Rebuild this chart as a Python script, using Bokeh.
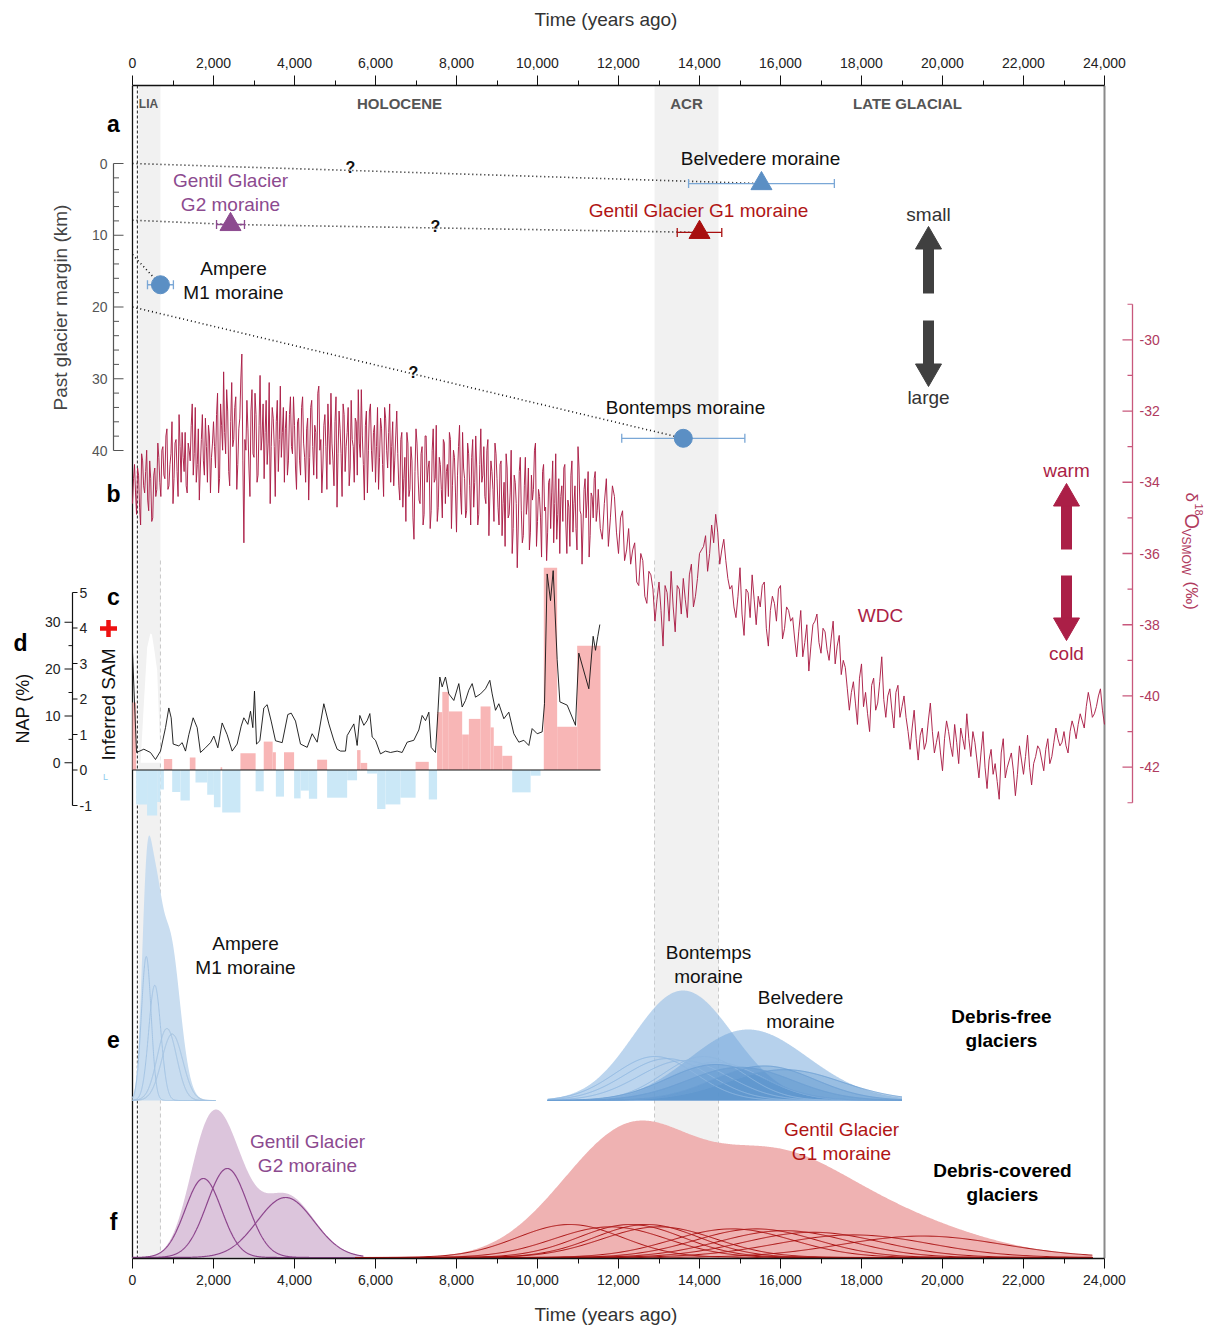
import numpy as np
from bokeh.plotting import figure
from bokeh.models import Range1d, LinearAxis, FixedTicker, NumeralTickFormatter
from bokeh.core.properties import value
from bokeh.embed import file_html
from bokeh.resources import INLINE

FONT = "Liberation Sans"

# ------------------------------------------------------------------ data
time_major = [0, 2000, 4000, 6000, 8000, 10000, 12000, 14000, 16000, 18000, 20000, 22000, 24000]
time_minor = [1000, 3000, 5000, 7000, 9000, 11000, 13000, 15000, 17000, 19000, 21000, 23000]

lia_span = [150, 690]
acr_span = [12890, 14470]

# panel a: moraine ages (yr) and past glacier margin (km)
moraine_age = [15530, 14000, 2420, 690, 13600]
moraine_err = [1800, 550, 345, 320, 1520]
moraine_km = [2.8, 9.6, 8.5, 16.9, 38.3]
moraine_marker = ["triangle", "triangle", "triangle", "circle", "circle"]

link_bel_age = [0, 15530]
link_bel_km = [0.0, 2.8]
link_gen_age = [0, 2420, 14000]
link_gen_km = [7.9, 8.5, 9.6]
link_amp_age = [0, 690]
link_amp_km = [12.7, 16.9]
link_bon_age = [0, 13600]
link_bon_km = [20.0, 38.3]

# panel b: WDC d18O (permil)
# Holocene: values at 0, 50, 100 ... yr and in-between values at 25, 75, 125 ... yr
wdc_holocene = [
    -34.6, -33.5, -34.9, -33.8, -35.2, -33.4, -34.3, -33.1, -34.8, -33.9, -35.0, -33.6, -34.2, -33.3,
    -34.4, -33.0, -33.9, -32.5, -34.1, -33.2, -34.6, -32.9, -33.7, -32.1, -34.0, -33.3, -32.6, -34.3,
    -33.1, -32.4, -33.8, -31.9, -33.5, -34.5, -32.8, -33.4, -32.2, -34.0, -32.7, -33.3,
    -32.3, -33.6, -31.5, -33.9, -32.4, -30.9, -33.2, -32.0, -34.1, -31.2, -32.8, -31.6, -33.5, -32.2,
    -30.4, -35.7, -33.1, -32.5, -34.4, -31.4, -33.3, -32.1, -33.8, -31.0, -32.7, -33.9, -31.7, -32.9,
    -34.6, -31.9, -33.0, -32.3, -33.7, -31.3, -32.6, -34.0, -32.0, -33.4, -31.6, -33.2, -32.4, -34.2,
    -32.2, -33.8, -31.6, -33.3, -32.5, -34.5, -31.9, -33.0, -32.4, -33.9, -31.3, -32.8, -33.6, -32.1,
    -34.2, -32.7, -31.5, -33.4, -32.3, -34.7, -32.0, -33.2, -31.8, -33.7, -32.6, -34.1, -31.7, -33.0,
    -32.2, -33.8, -32.9, -31.4, -33.5, -32.4, -34.3, -32.0, -33.1, -32.6, -34.0, -31.9, -33.3, -32.5,
    -34.4, -32.2, -33.6, -31.8, -33.0, -34.1, -32.7,
    -33.2, -34.5, -32.6, -33.9, -35.1, -32.9, -34.2, -33.4, -35.6, -32.5, -33.8, -34.6, -33.0, -34.9,
    -32.7, -33.6, -35.3, -33.1, -34.0, -32.4, -34.7, -33.5, -35.0, -32.9, -33.7, -34.4, -32.8, -34.1,
    -33.3, -35.4, -33.0, -34.3, -32.6, -33.9, -34.8, -33.2, -35.2, -32.8, -34.0, -33.6, -34.9, -32.5,
    -33.8, -34.4, -33.1, -35.5, -33.4, -34.2, -32.9,
    -33.9, -35.2, -33.4, -34.6, -35.8, -33.6, -34.9, -33.1, -35.3, -34.0, -36.4, -33.7, -34.8, -35.5,
    -33.3, -34.5, -35.9, -33.8, -34.2, -32.9, -35.1, -34.4, -36.1, -33.5, -34.7, -35.4, -33.9, -34.3,
    -35.7, -33.2, -34.9, -36.0, -34.1, -33.6, -35.2, -34.5, -35.8, -33.4, -34.6, -35.3, -33.0, -34.8,
    -36.3, -34.2, -35.0, -33.7, -35.5, -34.4, -33.9, -35.1,
]
wdc_holocene_mid = [
    -33.9, -34.3, -33.6, -34.7, -33.2, -34.1, -33.7, -34.5, -33.4, -35.1, -33.8, -34.4, -32.9, -34.0,
    -33.1, -33.8, -32.7, -34.2, -33.5, -32.3, -33.9, -32.8, -34.4, -33.0, -32.6, -33.7, -34.1, -32.9,
    -33.4, -31.8, -33.2, -34.0, -32.5, -33.6, -32.1, -33.8, -33.0, -32.4, -34.3, -32.9,
    -33.0, -32.1, -34.3, -31.8, -33.1, -32.6, -31.4, -33.7, -32.3, -33.0, -31.9, -34.2, -32.5, -31.1,
    -33.4, -32.8, -31.7, -33.6, -32.0, -33.2, -31.5, -34.0, -32.4, -33.1, -31.8, -32.6, -33.5, -31.2,
    -33.0, -32.2, -34.4, -31.7, -32.8, -33.3, -31.9, -32.5, -33.8, -32.1, -33.0, -31.6, -33.6, -32.3,
    -33.4, -31.9, -32.9, -34.0, -32.2, -33.3, -31.7, -33.8, -32.6, -31.5, -33.1, -34.3, -32.4, -33.0,
    -31.8, -33.5, -32.9, -34.1, -31.6, -33.2, -32.5, -34.4, -32.1, -33.0, -31.9, -33.6, -32.8, -34.0,
    -32.3, -31.4, -33.3, -32.7, -34.5, -32.0, -33.1, -31.8, -33.7, -32.4, -33.0, -34.2, -32.2, -33.5,
    -31.9, -33.1, -32.6, -34.0, -32.3, -33.4, -32.0,
    -34.1, -32.8, -34.7, -33.3, -32.6, -34.4, -33.0, -35.0, -33.7, -32.9, -34.5, -33.2, -35.2, -32.7,
    -34.0, -33.4, -34.8, -32.5, -33.9, -35.1, -33.3, -34.2, -32.8, -34.6, -33.5, -32.6, -35.3, -33.1,
    -34.3, -33.8, -32.4, -34.9, -33.6, -35.0, -32.9, -34.1, -33.3, -34.7, -32.7, -35.2, -33.5, -34.0,
    -33.0, -34.6, -32.8, -34.3, -33.7, -35.1, -33.2,
    -34.7, -33.5, -35.5, -34.0, -33.2, -35.0, -34.3, -36.0, -33.8, -34.6, -35.2, -33.3, -35.7, -34.1,
    -34.9, -33.6, -35.4, -34.5, -33.1, -35.8, -34.2, -35.0, -33.7, -34.8, -36.2, -34.0, -35.3, -33.4,
    -34.6, -35.6, -33.9, -34.4, -35.1, -33.5, -36.0, -34.7, -33.8, -35.4, -34.1, -35.9, -33.6, -34.9,
    -35.2, -33.9, -34.5, -36.1, -34.3, -35.0, -33.7, -34.8,
]
# Late glacial: values at 11500, 11600 ... yr and in-between values at 11550, 11650 ... yr
wdc_glacial = [
    -34.2, -35.6, -33.9, -35.0, -34.4, -36.0, -34.8, -35.9,
    -36.3, -35.7, -36.9, -36.2, -37.4, -36.6,
    -37.9, -36.8, -38.6, -37.1, -36.5, -38.2, -37.0, -36.7, -37.8, -36.3, -37.2, -36.0,
    -35.8, -36.5, -35.2, -34.9, -36.3, -35.6, -36.7,
    -36.9, -37.8, -36.4, -38.3, -37.1, -36.6, -38.0, -37.5, -36.8, -38.6, -37.2, -37.9, -36.9, -38.1, -37.6,
    -37.8, -38.9, -37.6, -38.5, -39.3, -38.0, -37.7, -38.8, -38.2, -39.0, -37.9, -38.6, -39.4,
    -39.2, -40.4, -39.6, -40.8, -39.1, -39.9, -41.0, -39.5, -40.2, -38.9, -40.6, -39.8, -40.9, -39.7, -40.3,
    -40.6, -41.5, -40.4, -41.8, -40.9, -41.3, -40.2, -41.6, -41.0, -42.1, -40.7, -41.4, -40.8, -41.9, -41.2,
    -40.5, -41.7,
    -41.3, -42.3, -41.0, -42.6, -41.5, -41.9, -42.9, -41.2, -42.0, -41.6, -42.8, -41.4, -42.2, -41.1, -42.5,
    -41.7,
    -41.5, -42.1, -41.2, -41.7, -40.9, -41.4, -41.0, -41.6, -40.7, -41.2, -40.5, -40.9, -39.9, -40.6, -40.3,
    -39.8, -40.8,
]
wdc_glacial_mid = [
    -35.3, -34.6, -35.8, -34.1, -35.4, -35.0, -36.2, -35.3,
    -35.9, -36.8, -36.0, -37.2, -36.5, -37.0,
    -37.3, -37.6, -36.9, -37.9, -37.5, -36.9, -37.7, -37.3, -36.6, -37.5, -36.7, -35.9,
    -35.5, -36.0, -35.7, -35.4, -35.9, -36.2, -37.0,
    -37.5, -37.2, -37.7, -37.0, -37.8, -37.3, -37.2, -36.9, -38.1, -37.6, -37.4, -37.0, -38.4, -37.5, -37.9,
    -38.4, -38.2, -38.9, -38.0, -38.6, -37.9, -38.5, -38.1, -38.7, -38.4, -39.1, -38.3, -39.0,
    -39.8, -39.9, -40.2, -39.5, -40.3, -40.5, -39.7, -40.4, -39.6, -40.1, -40.0, -40.4, -39.9, -40.6, -40.0,
    -41.0, -40.9, -41.2, -41.1, -41.5, -40.7, -41.0, -41.3, -41.6, -41.2, -41.0, -41.7, -41.3, -40.9, -41.5,
    -41.2, -41.0,
    -41.8, -41.6, -42.0, -41.8, -42.2, -42.4, -41.6, -42.3, -41.8, -42.1, -42.2, -41.8, -41.7, -42.0, -41.9,
    -41.4,
    -41.8, -41.5, -41.9, -41.3, -41.2, -41.3, -41.4, -41.0, -40.9, -40.8, -40.7, -40.3, -40.2, -40.5, -40.0,
    -40.4,
]
_wdc = sorted(
    [(50 * i, v) for i, v in enumerate(wdc_holocene)]
    + [(50 * i + 25, v) for i, v in enumerate(wdc_holocene_mid)]
    + [(11500 + 100 * i, v) for i, v in enumerate(wdc_glacial)]
    + [(11550 + 100 * i, v) for i, v in enumerate(wdc_glacial_mid)]
)
wdc_age = [a for a, _ in _wdc]
wdc_d18o = [v for _, v in _wdc]

# panel c: inferred SAM (step bins)
sam_start = [0, 90, 360, 610, 690, 775, 980, 1185, 1415, 1555, 1845, 2010, 2175, 2215, 2665, 3040, 3240,
             3460, 3540, 3740, 3990, 4150, 4355, 4560, 4805, 5300, 5545, 5630, 5795, 6040, 6245, 6615,
             6990, 7315, 7520, 7650, 7810, 8140, 8305, 8595, 8840, 8920, 9130, 9375, 9830, 10155, 10485,
             10980]
sam_end = [90, 360, 610, 690, 775, 980, 1185, 1415, 1555, 1845, 2010, 2175, 2215, 2665, 3040, 3240, 3460,
           3540, 3740, 3990, 4150, 4355, 4560, 4805, 5300, 5545, 5630, 5795, 6040, 6245, 6615, 6990,
           7315, 7520, 7650, 7810, 8140, 8305, 8595, 8840, 8920, 9130, 9375, 9830, 10075, 10485, 10980,
           11555]
sam_value = [1.9, -0.97, -1.28, -0.9, -0.55, 0.31, -0.62, -0.86, 0.35, -0.35, -0.7, -1.05, 0.08, -1.2,
             0.47, -0.6, 0.8, 0.5, -0.75, 0.5, -0.8, -0.58, -0.81, 0.29, -0.78, -0.29, 0.56, 0.2, -0.1,
             -1.1, -0.97, -0.78, 0.23, -0.83, 1.63, 2.2, 1.65, 1.0, 1.44, 1.79, 1.2, 0.68, 0.40, -0.63,
             -0.16, 5.7, 1.22, 3.5]

# panel d: NAP (%)
nap_age = [0, 100, 280, 444, 568, 691, 815, 897, 955, 1004, 1144, 1226, 1309, 1391, 1498, 1597, 1679,
           1802, 1926, 2008, 2107, 2214, 2337, 2461, 2584, 2683, 2749, 2848, 2914, 2971, 3012, 3062,
           3144, 3243, 3325, 3424, 3531, 3696, 3835, 3918, 4025, 4148, 4313, 4436, 4560, 4724, 4848,
           4971, 5053, 5136, 5259, 5300, 5465, 5547, 5613, 5712, 5794, 5860, 5918, 6000, 6123, 6247,
           6370, 6535, 6658, 6782, 6946, 7070, 7152, 7235, 7317, 7374, 7481, 7539, 7588, 7646, 7728,
           7810, 7934, 8057, 8140, 8222, 8304, 8387, 8469, 8593, 8716, 8823, 8881, 8963, 9045, 9169,
           9292, 9416, 9539, 9663, 9786, 9868, 9992, 10115, 10173, 10239, 10321, 10387, 10486, 10552,
           10733, 10938, 11020, 11267, 11374, 11432, 11489, 11539]
nap_pct = [23.5, 2.2, 2.9, 2.2, 0.7, 2.5, 7.5, 11.7, 9.6, 4.0, 3.6, 4.3, 2.5, 6.0, 9.6, 7.5, 2.2, 3.2,
           4.3, 5.7, 3.2, 8.5, 6.0, 2.5, 4.0, 7.8, 9.6, 8.2, 11.0, 7.5, 15.3, 4.0, 4.7, 11.7, 12.4, 8.9,
           4.7, 4.3, 10.3, 10.6, 8.9, 4.0, 3.3, 6.2, 4.4, 12.6, 8.3, 4.8, 2.9, 2.5, 2.5, 5.8, 8.3, 3.7,
           10.1, 8.0, 9.0, 10.5, 5.5, 4.8, 1.9, 2.5, 2.2, 2.5, 2.2, 4.4, 4.8, 7.0, 10.1, 9.0, 10.8, 3.3,
           2.2, 10.5, 18.3, 16.2, 18.3, 14.7, 13.3, 16.9, 11.9, 13.3, 15.5, 16.9, 14.0, 14.7, 15.8,
           17.6, 14.7, 11.2, 12.6, 9.4, 10.8, 6.2, 4.4, 4.8, 3.7, 7.3, 6.2, 6.6, 12.6, 40.3, 34.6, 41.0,
           22.0, 13.0, 12.3, 8.0, 23.4, 15.8, 27.0, 24.0, 27.0, 29.5]
lia_mask_age = [200, 280, 362, 440, 480, 540, 609, 660, 700]
lia_mask_nap = [0, 12.6, 24.6, 27.6, 27.4, 24.0, 19.7, 8.0, 0]

# panels e, f: individual exposure ages (yr) and 1-sigma uncertainties
amp_age = [340, 550, 850, 980]
amp_err = [120, 150, 240, 260]
bon_age = [12900, 13200, 13600, 14100, 14400]
bon_err = [1000, 1050, 1100, 1000, 1150]
bel_age = [14400, 15000, 15600, 16100]
bel_err = [1200, 1300, 1250, 1400]
g2_age = [1750, 2340, 3780]
g2_err = [450, 500, 700]
g2_peak = [79, 89, 60]          # plotted peak heights of the individual G2 curves (px)
g1_age = [10800, 11800, 12300, 12700, 13000, 14800, 15400, 16100, 16800, 17800, 19500]
g1_err = [1300, 1400, 1300, 1300, 1400, 1500, 1500, 1600, 1700, 1900, 2000]

# ------------------------------------------------------------------ layout helpers
FRAME_T, FRAME_B = 85.0, 1258.0
TXT = 19


def tx(px):
    """page x pixel -> years (layout helper for labels/axes)"""
    return (px - 132.0) * 24000.0 / 972.0


def yrange(v_a, px_a, v_b, px_b):
    k = (v_b - v_a) / (px_b - px_a)
    return Range1d(start=v_a + (FRAME_B - px_a) * k, end=v_a + (FRAME_T - px_a) * k)


p = figure(width=1205, height=1329, output_backend="svg", toolbar_location=None,
           x_range=Range1d(tx(8), tx(1203)), y_range=Range1d(FRAME_B, FRAME_T),
           x_axis_location=None, y_axis_location=None,
           min_border_left=8, min_border_right=2, min_border_top=85, min_border_bottom=71)
p.outline_line_color = None
p.xgrid.visible = False
p.ygrid.visible = False
p.extra_y_ranges = {
    "a": yrange(0, 163, 40, 450),
    "b": yrange(-30, 339.3, -42, 766.7),
    "sam": yrange(0, 769.5, 5, 592),
    "nap": yrange(0, 762.3, 30, 621.7),
    "e": yrange(0, 1100, 100, 1000),
    "f": yrange(0, 1257, 100, 1157),
}

for loc, lab_so, title_so in [("above", 8, 25), ("below", 6, 16)]:
    ax = LinearAxis(ticker=FixedTicker(ticks=time_major, minor_ticks=time_minor),
                    formatter=NumeralTickFormatter(format="0,0"), bounds=(0, 24000),
                    axis_label="Time (years ago)")
    ax.major_tick_out = 10
    ax.major_tick_in = 0
    ax.minor_tick_out = 5
    ax.minor_tick_in = 0
    ax.axis_line_width = 1.6
    ax.axis_line_color = "#111111"
    ax.major_tick_line_color = "#111111"
    ax.minor_tick_line_color = "#111111"
    ax.major_label_text_font = FONT
    ax.major_label_text_font_size = "14px"
    ax.major_label_text_color = "#222222"
    ax.major_label_standoff = lab_so
    ax.axis_label_text_font = FONT
    ax.axis_label_text_font_size = f"{TXT}px"
    ax.axis_label_text_font_style = "normal"
    ax.axis_label_text_color = "#333333"
    ax.axis_label_standoff = title_so
    p.add_layout(ax, loc)


def txt(x, y, s, size=TXT, color="#111111", bold=False, align="center", angle=0.0, yr="default",
        baseline="middle"):
    p.text(x=[x], y=[y], text=[s], text_font=value(FONT), text_font_size=f"{size}px",
           text_color=color, text_font_style="bold" if bold else "normal", text_align=align,
           text_baseline=baseline, angle=angle, y_range_name=yr)


# ------------------------------------------------------------------ background bands
p.quad(left=[lia_span[0], acr_span[0]], right=[lia_span[1], acr_span[1]], bottom=FRAME_B, top=FRAME_T,
       fill_color="#f1f1f1", line_color=None)
p.segment(x0=[lia_span[1], acr_span[0], acr_span[1]], y0=[560] * 3,
          x1=[lia_span[1], acr_span[0], acr_span[1]], y1=[FRAME_B] * 3,
          line_color="#c8c8c8", line_width=1, line_dash="4 3")
p.segment(x0=[120], y0=[FRAME_T], x1=[120], y1=[FRAME_B], line_color="#222222", line_width=1,
          line_dash="3 2")
p.segment(x0=[0], y0=[FRAME_T], x1=[0], y1=[FRAME_B], line_color="#111111", line_width=1.3)
p.segment(x0=[24000], y0=[FRAME_T], x1=[24000], y1=[FRAME_B], line_color="#8a8a8a", line_width=2)

for name, px in [("LIA", 148), ("HOLOCENE", 399), ("ACR", 686), ("LATE GLACIAL", 907)]:
    txt(tx(px), 103, name, size=15 if name != "LIA" else 12, color="#555555", bold=True)

# ------------------------------------------------------------------ panel letters
for letter, px, py in [("a", 113, 123), ("b", 113, 493), ("c", 113, 596), ("d", 20, 642),
                       ("e", 113, 1039), ("f", 113, 1221)]:
    txt(tx(px), py, letter, size=23, color="#000000", bold=True)

# ------------------------------------------------------------------ panel a axis
a_major = [0, 10, 20, 30, 40]
a_minor = [v for v in range(0, 41, 2) if v % 10 != 0]
p.segment(x0=[tx(113)], y0=[0], x1=[tx(113)], y1=[40], y_range_name="a", line_color="#555555",
          line_width=1.2)
p.segment(x0=[tx(113)] * len(a_major), y0=a_major, x1=[tx(123)] * len(a_major), y1=a_major,
          y_range_name="a", line_color="#555555", line_width=1.2)
p.segment(x0=[tx(113)] * len(a_minor), y0=a_minor, x1=[tx(118.5)] * len(a_minor), y1=a_minor,
          y_range_name="a", line_color="#555555", line_width=1)
for v in a_major:
    txt(tx(107), v, str(v), size=14, color="#555555", align="right", yr="a")
txt(tx(60), 307, "Past glacier margin (km)", color="#444444", angle=np.pi / 2)

# panel a links, error bars, markers
for ages, kms in [(link_bel_age, link_bel_km), (link_gen_age, link_gen_km),
                  (link_amp_age, link_amp_km), (link_bon_age, link_bon_km)]:
    p.line(ages, kms, y_range_name="a", line_color="#111111", line_width=1.6, line_dash="1 3")

mk_colors = ["#5b8fc4", "#a80f0f", "#8c4a8f", "#5b8fc4", "#5b8fc4"]
err_colors = ["#7aa7d6", "#a80f0f", "#8c4a8f", "#7aa7d6", "#7aa7d6"]
for age, err, km, mk, c, ec in zip(moraine_age, moraine_err, moraine_km, moraine_marker, mk_colors,
                                   err_colors):
    p.segment(x0=[age - err], y0=[km], x1=[age + err], y1=[km], y_range_name="a", line_color=ec,
              line_width=1.3)
    p.scatter(x=[age - err, age + err], y=[km, km], marker="dash", angle=np.pi / 2, size=9,
              line_color=ec, line_width=1.3, y_range_name="a")
    p.scatter(x=[age], y=[km], marker=mk, size=21 if mk == "triangle" else 18, fill_color=c,
              line_color=c, y_range_name="a")

txt(tx(760), 158, "Belvedere moraine")
txt(tx(230), 180, "Gentil Glacier", color="#8c4a8f")
txt(tx(230), 204, "G2 moraine", color="#8c4a8f")
txt(tx(698), 210, "Gentil Glacier G1 moraine", color="#b01515")
txt(tx(233), 268, "Ampere")
txt(tx(233), 292, "M1 moraine")
txt(tx(685), 407, "Bontemps moraine")
for px, py in [(350, 167), (435, 226), (413, 372)]:
    txt(tx(px), py, "?", size=16, color="#111111", bold=True)

# size / temperature arrows
GRAY = "#404040"
RED = "#ab1f47"
for xpx, shaft, tip, up, c in [(928, (248.5, 293), 226, True, GRAY), (928, (320, 363.5), 386, False, GRAY),
                               (1066, (505.5, 549), 483, True, RED), (1066, (575, 617.5), 640, False, RED)]:
    p.segment(x0=[tx(xpx)], y0=[shaft[0]], x1=[tx(xpx)], y1=[shaft[1]], line_color=c, line_width=11)
    p.scatter(x=[tx(xpx)], y=[tip + 15 if up else tip - 15],
              marker="triangle" if up else "inverted_triangle", size=26, fill_color=c, line_color=c)
txt(tx(928), 214, "small", color="#333333")
txt(tx(928), 397, "large", color="#333333")
txt(tx(1066), 470, "warm", color=RED)
txt(tx(1066), 653, "cold", color=RED)

# ------------------------------------------------------------------ panel c/d (SAM, NAP)
p.varea(x=lia_mask_age, y1=[0] * len(lia_mask_age), y2=lia_mask_nap, fill_color="white",
        y_range_name="nap")
sam_colors = ["#f8b6b6" if v > 0 else "#cbe8f7" for v in sam_value]
p.quad(left=sam_start, right=sam_end, bottom=[0] * len(sam_value), top=sam_value,
       fill_color=sam_colors, line_color=None, y_range_name="sam")
p.segment(x0=[0], y0=[0], x1=[sam_end[-1]], y1=[0], line_color="#111111", line_width=1.2,
          y_range_name="sam")
p.line(nap_age, nap_pct, y_range_name="nap", line_color="#111111", line_width=0.9)

# c/d axes
AX_X = tx(72)
p.segment(x0=[AX_X], y0=[-1], x1=[AX_X], y1=[5], y_range_name="sam", line_color="#111111",
          line_width=1.2)
sam_ticks = [-1, 0, 1, 2, 3, 4, 5]
p.segment(x0=[AX_X] * 7, y0=sam_ticks, x1=[tx(77)] * 7, y1=sam_ticks, y_range_name="sam",
          line_color="#111111", line_width=1.1)
for v in sam_ticks:
    txt(tx(79), v, str(v), size=14, color="#222222", align="left", yr="sam")
nap_major = [0, 10, 20, 30]
nap_minor = [5, 15, 25]
p.segment(x0=[tx(64)] * 4, y0=nap_major, x1=[AX_X] * 4, y1=nap_major, y_range_name="nap",
          line_color="#111111", line_width=1.1)
p.segment(x0=[tx(68)] * 3, y0=nap_minor, x1=[AX_X] * 3, y1=nap_minor, y_range_name="nap",
          line_color="#111111", line_width=1)
for v in nap_major:
    txt(tx(60), v, str(v), size=14, color="#222222", align="right", yr="nap")
txt(tx(22), 708, "NAP (%)", size=18, color="#111111", angle=np.pi / 2)
txt(tx(108), 704, "Inferred SAM", color="#111111", angle=np.pi / 2)
p.scatter(x=[tx(108)], y=[628], marker="cross", size=17, line_color="#ee1111", line_width=4.5)
txt(tx(105), 776, "L", size=9, color="#8fcbed")

# ------------------------------------------------------------------ panel b (WDC)
p.line(wdc_age, wdc_d18o, y_range_name="b", line_color=RED, line_width=1.0, line_alpha=0.95)
txt(tx(880), 615, "WDC", color=RED)

# right d18O axis
B_X = tx(1132)
AXC = "#c8587c"
b_major = [-30, -32, -34, -36, -38, -40, -42]
b_minor = [-29, -31, -33, -35, -37, -39, -41, -43]
p.segment(x0=[B_X], y0=[-29], x1=[B_X], y1=[-43], y_range_name="b", line_color=AXC, line_width=1.3)
p.segment(x0=[tx(1122)] * 7, y0=b_major, x1=[B_X] * 7, y1=b_major, y_range_name="b", line_color=AXC,
          line_width=1.3)
p.segment(x0=[tx(1127)] * 8, y0=b_minor, x1=[B_X] * 8, y1=b_minor, y_range_name="b", line_color=AXC,
          line_width=1.1)
for v in b_major:
    txt(tx(1139), v, str(v), size=14, color="#b03a5e", align="left", yr="b")
for s, pxx, pyy, fs in [("δ", 1191, 492, 17), ("18", 1198, 503, 11), ("O", 1191, 513, 20),
                        ("VSMOW", 1185, 528, 12), ("(‰)", 1191, 581, 17)]:
    txt(tx(pxx), pyy, s, size=fs, color="#b03a5e", align="left", angle=-np.pi / 2)


# ------------------------------------------------------------------ panels e, f (age PDFs)
def pdfs(ages, errs, lo, hi, peaks=None, n=700):
    t = np.linspace(lo, hi, n)
    if peaks is None:
        cs = np.array([np.exp(-0.5 * ((t - a) / s) ** 2) / s for a, s in zip(ages, errs)])
    else:
        cs = np.array([h * np.exp(-0.5 * ((t - a) / s) ** 2) for a, s, h in zip(ages, errs, peaks)])
    return t, cs


# Ampere
t, cs = pdfs(amp_age, amp_err, 0, 2050)
tot = cs.sum(0)
p.varea(x=t, y1=0, y2=tot * 265 / tot.max(), fill_color="#c9ddf0", y_range_name="e")
k = 144 / cs.max()
for c in cs:
    p.line(t, c * k, line_color="#a3c3e3", line_width=1, y_range_name="e")

# Bontemps and Belvedere
tb, csb = pdfs(bon_age, bon_err, 10250, 19000)
tv, csv = pdfs(bel_age, bel_err, 10250, 19000)
totb = csb.sum(0)
totv = csv.sum(0)
p.varea(x=tb, y1=0, y2=totb * 110 / totb.max(), fill_color="#9fc3e7", fill_alpha=0.7, y_range_name="e")
p.varea(x=tv, y1=0, y2=totv * 71 / totv.max(), fill_color="#6ea4da", fill_alpha=0.5, y_range_name="e")
kv = 36 / csv.max()
for c in csv:
    p.varea(x=tv, y1=0, y2=c * kv, fill_color="#4f8cc9", fill_alpha=0.28, y_range_name="e")
kb = 44 / csb.max()
for c in csb:
    p.line(tb, c * kb, line_color="#8fb7e0", line_width=1, y_range_name="e")
for c in csv:
    p.line(tv, c * kv, line_color="#6c9fd3", line_width=1, y_range_name="e")

txt(tx(245), 943, "Ampere")
txt(tx(245), 967, "M1 moraine")
txt(tx(708), 952, "Bontemps")
txt(tx(708), 976, "moraine")
txt(tx(800), 997, "Belvedere")
txt(tx(800), 1021, "moraine")
txt(tx(1001), 1016, "Debris-free", bold=True, color="#000000")
txt(tx(1001), 1040, "glaciers", bold=True, color="#000000")

# Gentil G2
t2, cs2 = pdfs(g2_age, g2_err, 0, 5700, peaks=g2_peak)
tot2 = cs2.sum(0)
p.varea(x=t2, y1=0, y2=tot2 * 148 / tot2.max(), fill_color="#dcc5dc", y_range_name="f")
for c in cs2:
    p.line(t2, c, line_color="#8d468d", line_width=1.2, y_range_name="f")

# Gentil G1
t1, cs1 = pdfs(g1_age, g1_err, 5500, 23700)
tot1 = cs1.sum(0)
p.varea(x=t1, y1=0, y2=tot1 * 137 / tot1.max(), fill_color="#efb2b2", y_range_name="f")
k1 = 33 / cs1.max()
for c in cs1:
    p.line(t1, c * k1, line_color="#aa1111", line_width=1, y_range_name="f")

txt(tx(307), 1141, "Gentil Glacier", color="#8c4a8f")
txt(tx(307), 1165, "G2 moraine", color="#8c4a8f")
txt(tx(841), 1129, "Gentil Glacier", color="#b01515")
txt(tx(841), 1153, "G1 moraine", color="#b01515")
txt(tx(1002), 1170, "Debris-covered", bold=True, color="#000000")
txt(tx(1002), 1194, "glaciers", bold=True, color="#000000")

open("out.html", "w").write(file_html(p, INLINE))
